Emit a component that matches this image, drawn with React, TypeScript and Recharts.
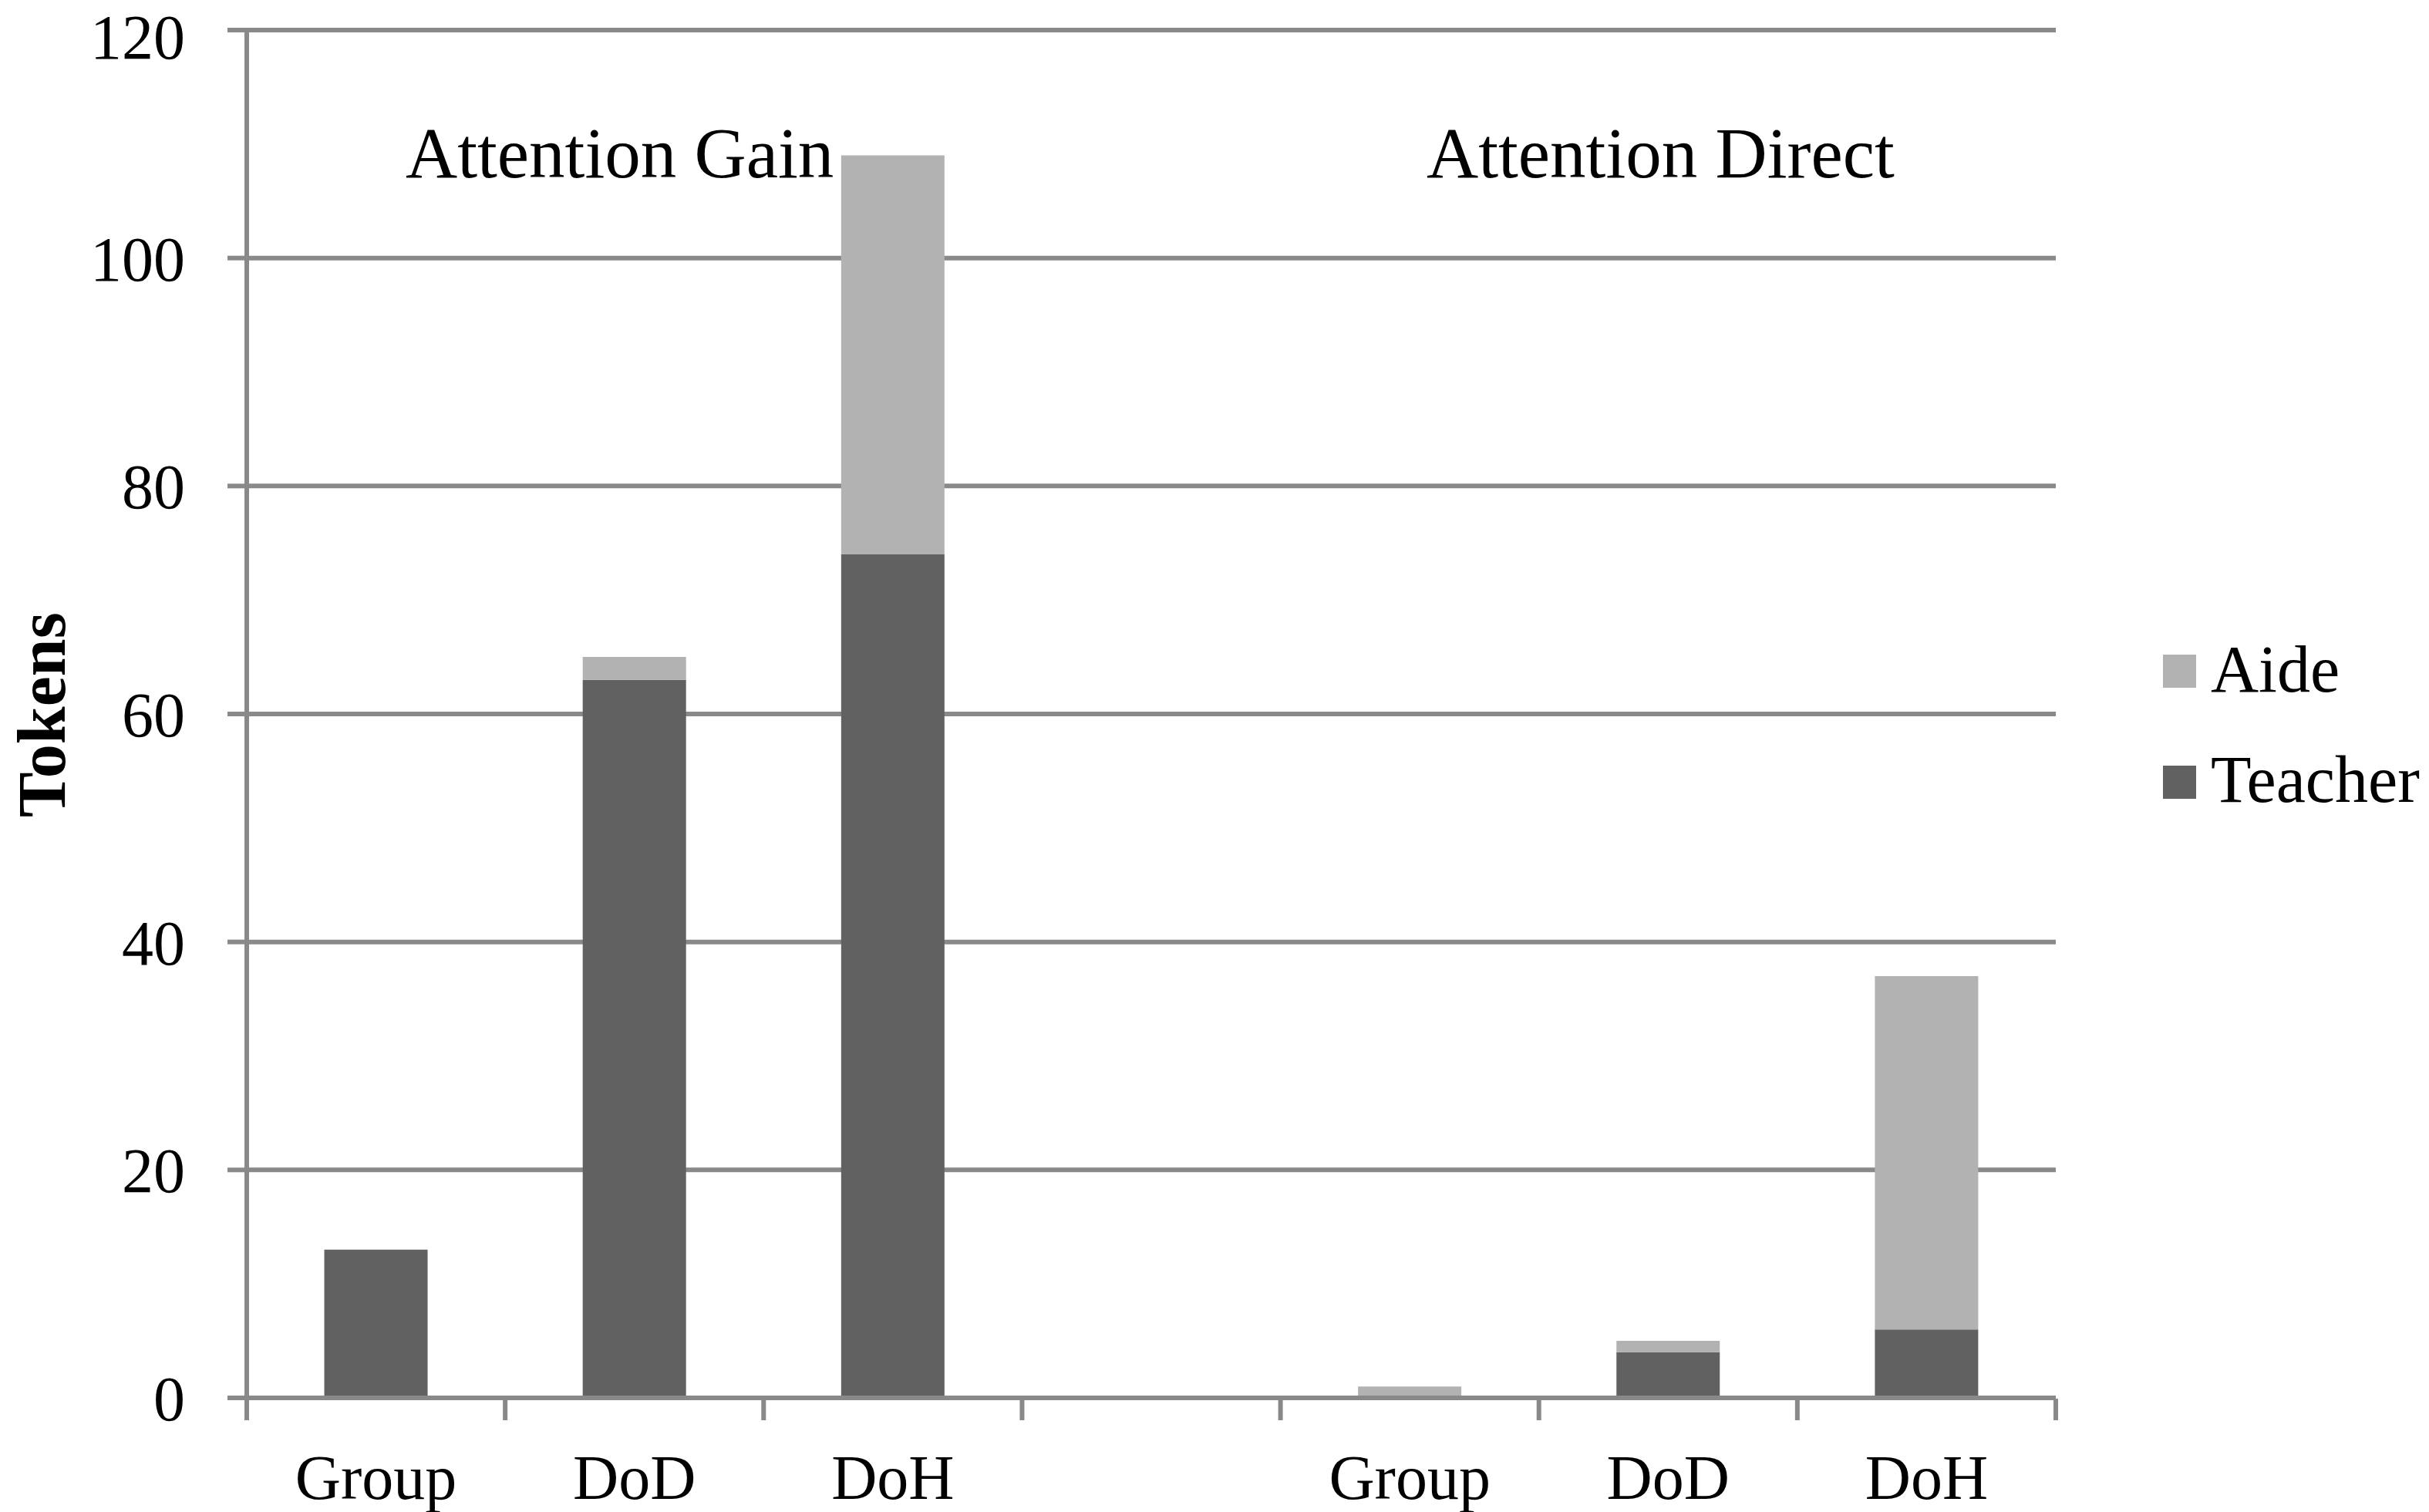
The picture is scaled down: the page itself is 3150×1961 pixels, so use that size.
import { BarChart, Bar, XAxis, YAxis, CartesianGrid, Customized } from "recharts";

document.body.style.margin = "0";

const categories = ["Group", "DoD", "DoH", "", "Group", "DoD", "DoH"];
const teacherValues = [13, 63, 74, 0, 0, 4, 6];
const aideValues = [0, 2, 35, 0, 1, 1, 31];
const yTicks = [0, 20, 40, 60, 80, 100, 120];
const boundaryTicks = [0, 1, 2, 3, 4, 5, 6, 7];
const groupTitles = ["Attention Gain", "Attention Direct"];
const legendItems = [
  { name: "Aide", color: "#b2b2b2" },
  { name: "Teacher", color: "#616161" },
];

const data = categories.map((label, i) => ({
  slot: i,
  label,
  teacher: teacherValues[i],
  aide: aideValues[i],
}));

const FONT = "'Liberation Serif', 'DejaVu Serif', serif";
const LINE = "#898989";

function Overlay() {
  return (
    <g fontFamily={FONT} fill="#000">
      <text x={526} y={230} fontSize={93}>
        {groupTitles[0]}
      </text>
      <text x={1850} y={230} fontSize={93}>
        {groupTitles[1]}
      </text>
      <text
        x={84}
        y={927}
        fontSize={88}
        fontWeight="bold"
        textAnchor="middle"
        transform="rotate(-90, 84, 927)"
      >
        Tokens
      </text>
      {legendItems.map((item, i) => (
        <g key={item.name}>
          <rect x={2805} y={849 + i * 144} width={43} height={43} fill={item.color} />
          <text x={2867} y={897 + i * 143} fontSize={86}>
            {item.name}
          </text>
        </g>
      ))}
    </g>
  );
}

export default function App() {
  return (
    <div style={{ width: 3150, height: 1961, background: "#fff" }}>
      <BarChart
        width={3150}
        height={1961}
        data={data}
        margin={{ top: 39, right: 484, bottom: 146, left: 0 }}
        barCategoryGap="30%"
      >
        <CartesianGrid horizontal vertical={false} stroke={LINE} strokeWidth={6} />
        {/* both x axes are 1px tall so they sit on the zero line in either stacking order */}
        <XAxis
          xAxisId="bounds"
          dataKey="slot"
          type="number"
          domain={[0, 7]}
          allowDataOverflow
          ticks={boundaryTicks}
          height={1}
          axisLine={false}
          tickLine={{ stroke: LINE, strokeWidth: 6 }}
          tickSize={28}
          tickFormatter={() => ""}
        />
        <XAxis
          dataKey="slot"
          type="category"
          height={1}
          axisLine={{ stroke: LINE, strokeWidth: 6 }}
          tickLine={false}
          tickSize={0}
          tickMargin={73}
          interval={0}
          tickFormatter={(i) => categories[i]}
          tick={{ fontSize: 82, fill: "#000", fontFamily: FONT }}
        />
        <YAxis
          width={320}
          domain={[0, 120]}
          ticks={yTicks}
          axisLine={{ stroke: LINE, strokeWidth: 6 }}
          tickLine={{ stroke: LINE, strokeWidth: 6 }}
          tickSize={25}
          tickMargin={55}
          tick={{ fontSize: 82, fill: "#000", fontFamily: FONT }}
        />
        <Bar dataKey="teacher" stackId="a" fill="#616161" isAnimationActive={false} />
        <Bar dataKey="aide" stackId="a" fill="#b2b2b2" isAnimationActive={false} />
        <Customized component={Overlay} />
      </BarChart>
    </div>
  );
}
